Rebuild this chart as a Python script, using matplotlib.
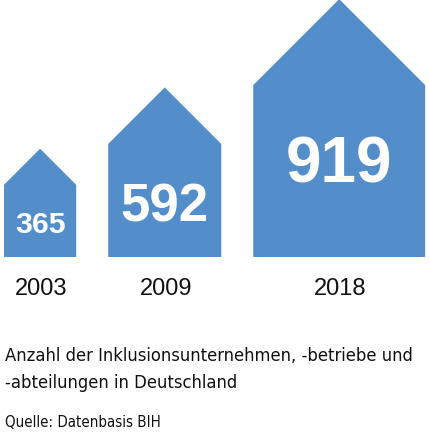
import os
import matplotlib
matplotlib.use("Agg")
import matplotlib.pyplot as plt
from matplotlib.patches import Polygon
from matplotlib import font_manager as fm

# ---- data ----
years = ["2003", "2009", "2018"]
values = [365, 592, 919]
caption_lines = ["Anzahl der Inklusionsunternehmen, -betriebe und",
                 "-abteilungen in Deutschland"]
source = "Quelle: Datenbasis BIH"

# ---- style ----
BLUE = "#538DCA"
W, H = 429, 435
num_sizes = [21.8, 38, 46]
num_baseline_frac = [0.65, 0.675, 0.56]


def find_condensed():
    prefs = ["NotoSans-Condensed.ttf", "NotoSans-SemiCondensed.ttf",
             "LiberationSansNarrow-Regular.ttf", "DejaVuSansCondensed.ttf"]
    files = {os.path.basename(f.fname): f.fname for f in fm.fontManager.ttflist}
    for p in prefs:
        if p in files:
            return fm.FontProperties(fname=files[p])
    for f in fm.fontManager.ttflist:
        b = os.path.basename(f.fname)
        if ("Condensed" in b or "Narrow" in b) and "Sans" in b and "Mono" not in b \
                and "Bold" not in b and "Italic" not in b and "Light" not in b \
                and "Oblique" not in b and "Semi" not in b and "Extra" not in b \
                and "Medium" not in b and "Black" not in b and "Thin" not in b:
            return fm.FontProperties(fname=f.fname)
    return fm.FontProperties(family="DejaVu Sans", stretch="condensed")


cond_fp = find_condensed()

fig = plt.figure(figsize=(W / 100, H / 100), dpi=100)
ax = fig.add_axes([0, 0, 1, 1])
ax.set_xlim(0, W)
ax.set_ylim(H, 0)
ax.axis("off")

base = 258
gap = 32
left = 4
for yr, v, fs, bf in zip(years, values, num_sizes, num_baseline_frac):
    w = 6.5 + 0.18 * v
    body = w
    roof = w / 2
    cx = left + w / 2
    pts = [(left, base), (left + w, base), (left + w, base - body),
           (cx, base - body - roof), (left, base - body)]
    ax.add_patch(Polygon(pts, closed=True, facecolor=BLUE, edgecolor="none"))
    ax.text(cx, base - body + body * bf, str(v), color="white",
            fontsize=fs, fontweight="bold", family="Liberation Sans",
            ha="center", va="baseline")
    ax.text(cx + 1, 295, yr, color="#111111", fontsize=17,
            family="Liberation Sans", ha="center", va="baseline")
    left += w + gap

cap_kw = dict(color="#111111", ha="left", va="baseline")


def mk(x, y, s, size):
    fp = cond_fp.copy()
    fp.set_size(size)
    return ax.text(x, y, s, fontproperties=fp, **cap_kw)


t1 = mk(5, 361, caption_lines[0], 14)
t2 = mk(5, 388.5, caption_lines[1], 14)
t3 = mk(5, 427.5, source, 11)

fig.canvas.draw()
r = fig.canvas.get_renderer()
wpx = t1.get_window_extent(r).width
fs = 14 * 412 / wpx
t1.set_fontsize(fs)
t2.set_fontsize(fs)
wq = t3.get_window_extent(r).width
t3.set_fontsize(11 * 156 / wq)

fig.savefig("out.png", dpi=100)
